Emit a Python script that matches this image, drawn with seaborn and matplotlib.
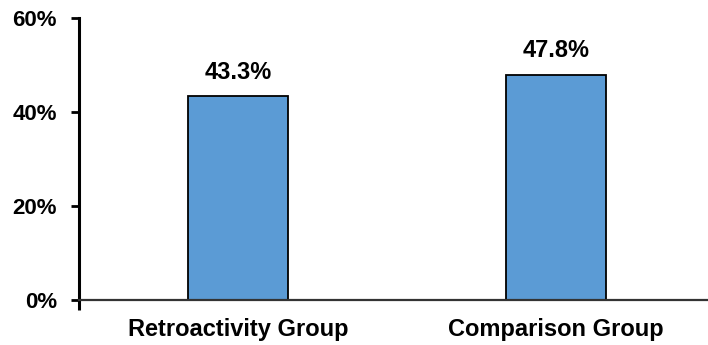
import matplotlib
matplotlib.use("Agg")
import matplotlib.pyplot as plt
import seaborn as sns
import pandas as pd
from matplotlib.ticker import PercentFormatter

categories = ["Retroactivity Group", "Comparison Group"]
values = [0.433, 0.478]
value_labels = ["43.3%", "47.8%"]
y_ticks = [0.0, 0.2, 0.4, 0.6]

sns.set_style("white")
plt.rcParams["font.family"] = ["Liberation Sans", "DejaVu Sans"]
plt.rcParams["font.weight"] = "bold"
plt.rcParams["text.color"] = "black"
plt.rcParams["axes.labelcolor"] = "black"
plt.rcParams["xtick.color"] = "black"
plt.rcParams["ytick.color"] = "black"

df = pd.DataFrame({"group": categories, "share": values})

fig = plt.figure(figsize=(7.08, 3.45), dpi=100)
ax = fig.add_axes([79 / 708, 45 / 345, (715 - 79) / 708, (300 - 17.5) / 345])

sns.barplot(data=df, x="group", y="share", color="#5B9BD5", saturation=1,
            width=0.315, edgecolor="black", linewidth=1.3, ax=ax)

ax.set_xlim(-0.5, 1.5)
ax.set_ylim(0, 0.6)
ax.set_yticks(y_ticks)
ax.yaxis.set_major_formatter(PercentFormatter(1.0, decimals=0))
ax.set_xlabel("")
ax.set_ylabel("")

for s in ["top", "right"]:
    ax.spines[s].set_visible(False)
ax.spines["left"].set_color("black")
ax.spines["left"].set_linewidth(2.2)
ax.spines["bottom"].set_color("#333333")
ax.spines["bottom"].set_linewidth(1.6)

ax.tick_params(axis="y", direction="out", length=6, width=2, colors="black",
               labelsize=16, pad=10, left=True)
ax.tick_params(axis="x", length=0, labelsize=17, pad=13, colors="black")
ax.set_xticks([-0.5], minor=True)
ax.tick_params(axis="x", which="minor", direction="out", length=7, width=2.2,
               color="black", bottom=True)
for lab in ax.get_xticklabels() + ax.get_yticklabels():
    lab.set_fontweight("bold")
    lab.set_color("black")

ax.bar_label(ax.containers[0], labels=value_labels, padding=9,
             fontsize=17, fontweight="bold", color="black")

fig.savefig("out.png", dpi=100)
